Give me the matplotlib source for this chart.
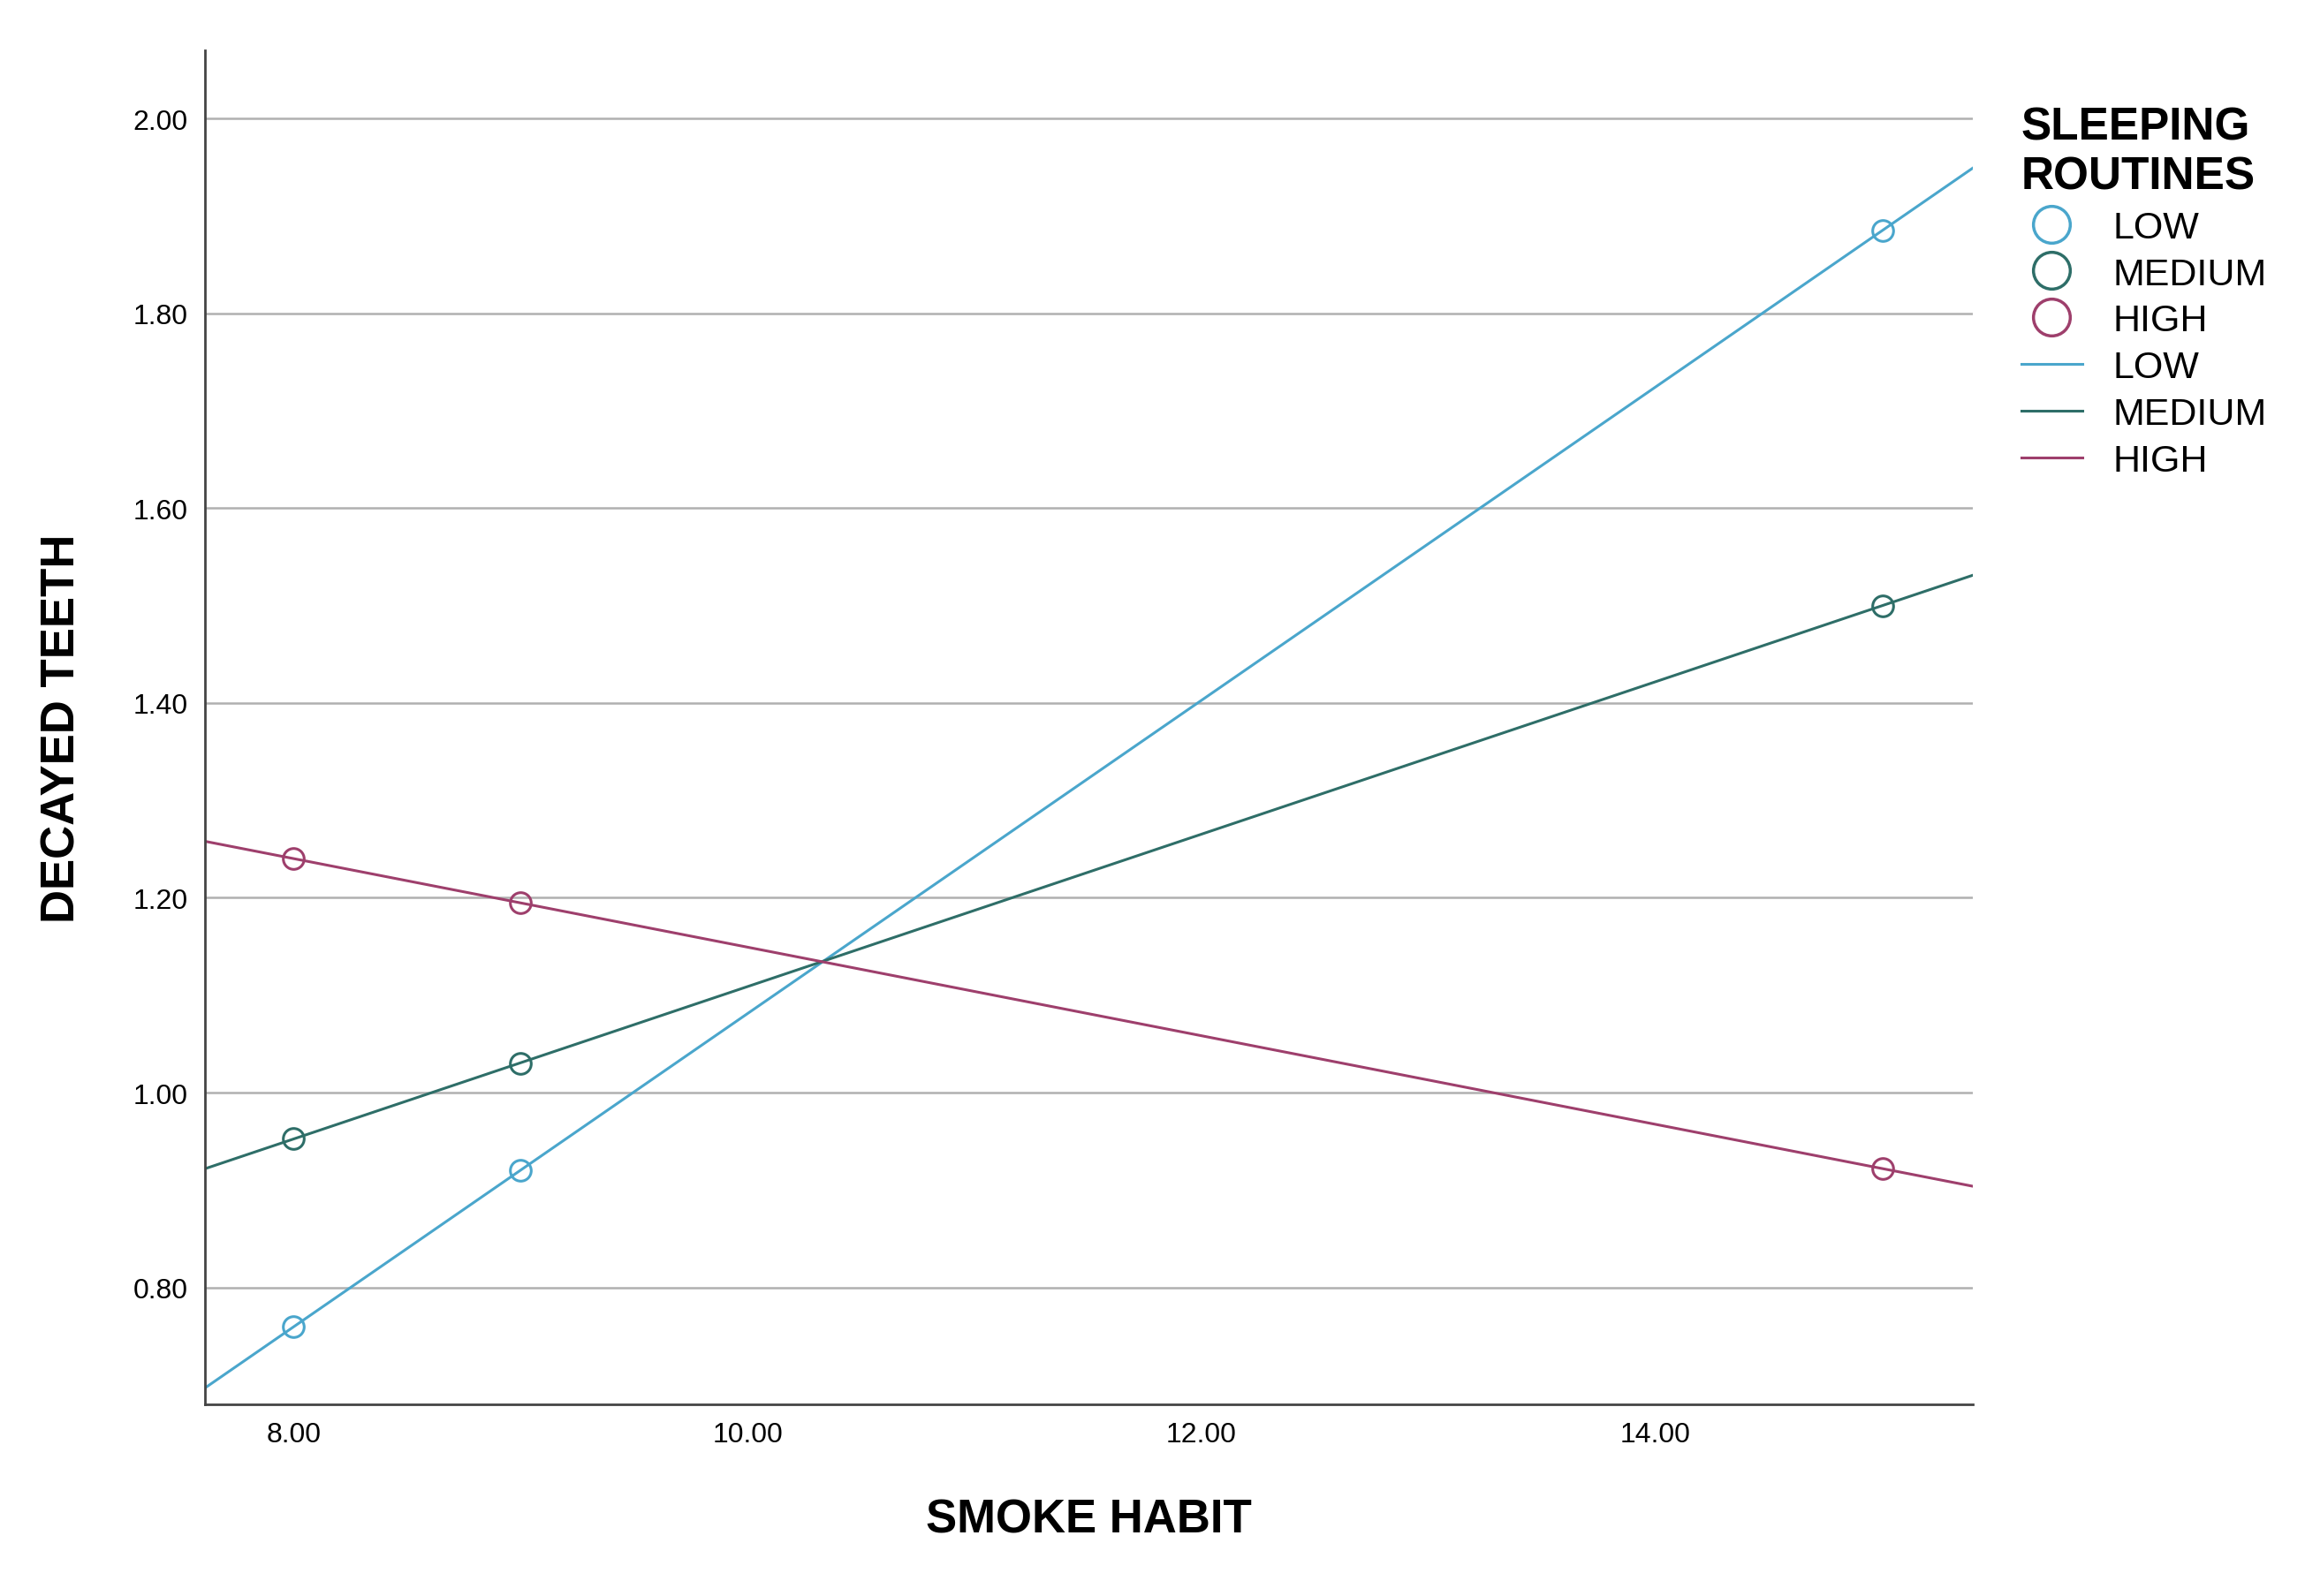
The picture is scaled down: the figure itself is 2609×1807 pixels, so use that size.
import numpy as np
import matplotlib
matplotlib.use("Agg")
import matplotlib.pyplot as plt
from matplotlib.lines import Line2D

plt.rcParams['font.family'] = ['Liberation Sans', 'DejaVu Sans']

groups = ["LOW", "MEDIUM", "HIGH"]
colors = ["#4aa6cc", "#2e6e68", "#9e3f6c"]
x_vals = [8.0, 9.0, 15.0]
y_low = [0.76, 0.92, 1.885]
y_med = [0.953, 1.03, 1.50]
y_high = [1.24, 1.195, 0.922]
series = [y_low, y_med, y_high]
yticks = [0.80, 1.00, 1.20, 1.40, 1.60, 1.80, 2.00]
xticks = [8, 10, 12, 14]

fig = plt.figure(figsize=(26.09, 18.08), dpi=100)
ax = fig.add_axes([0.089, 0.12, 0.767, 0.848])
xlim = (7.61, 15.40)
ax.set_xlim(*xlim)
ax.set_ylim(0.68, 2.07)
for y in yticks:
    ax.axhline(y, color="#b0b0b0", lw=1.8, zorder=0)
xx = np.array(xlim)
for ys, c in zip(series, colors):
    p = np.polyfit(x_vals, ys, 1)
    ax.plot(xx, np.polyval(p, xx), color=c, lw=2.2)
    ax.plot(x_vals, ys, "o", mfc="none", mec=c, ms=17, mew=2.2)
ax.set_xticks(xticks)
ax.set_xticklabels([f"{v:.2f}" for v in xticks])
ax.set_yticks(yticks)
ax.set_yticklabels([f"{v:.2f}" for v in yticks])
ax.tick_params(labelsize=23, length=0, pad=14)
for s in ["top", "right"]:
    ax.spines[s].set_visible(False)
for s in ["left", "bottom"]:
    ax.spines[s].set_color("#444444")
    ax.spines[s].set_linewidth(2)
ax.set_xlabel("SMOKE HABIT", fontsize=38, fontweight="bold", labelpad=40)
ax.set_ylabel("DECAYED TEETH", fontsize=38, fontweight="bold", labelpad=40)

handles = [Line2D([], [], ls="none", marker="o", mfc="none", mec=c, ms=30, mew=2.5) for c in colors]
handles += [Line2D([], [], color=c, lw=2.2) for c in colors]
leg = fig.legend(handles, groups + groups, loc="upper left", bbox_to_anchor=(0.862, 0.955),
                 frameon=False, fontsize=31, handlelength=1.6, labelspacing=0.3,
                 title="SLEEPING\nROUTINES", title_fontproperties={"size": 37, "weight": "bold"})
leg._legend_box.align = "left"
fig.savefig("out.png", dpi=100)
